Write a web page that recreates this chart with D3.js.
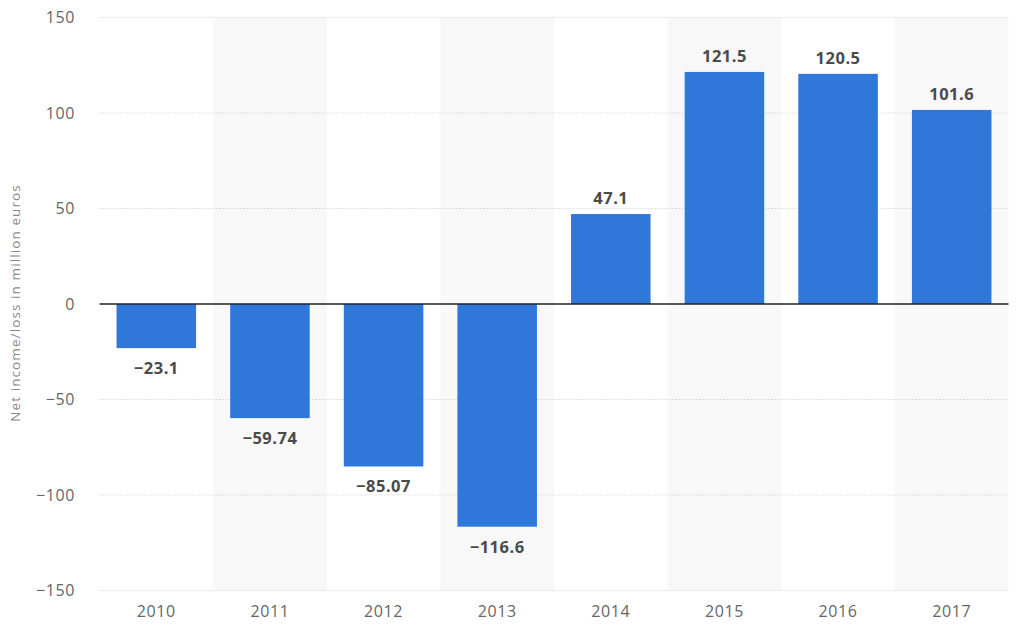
<!DOCTYPE html>
<html><head><meta charset="utf-8">
<script src="https://cdn.jsdelivr.net/npm/d3@7"></script>
<style>body{margin:0;background:#fff;}text{font-family:"Open Sans",sans-serif;}</style>
</head><body><svg id="c" width="1024" height="635"></svg>
<script>
const categories = ["2010","2011","2012","2013","2014","2015","2016","2017"];
const values = [-23.1,-59.74,-85.07,-116.6,47.1,121.5,120.5,101.6];
const labels = ["−23.1","−59.74","−85.07","−116.6","47.1","121.5","120.5","101.6"];
const yTicks = [-150,-100,-50,0,50,100,150];
const yTickLabels = ["−150","−100","−50","0","50","100","150"];
const yTitle = "Net income/loss in million euros";

const svg = d3.select("#c");
const x = d3.scaleBand().domain(categories).range([99.5,1008.5]).paddingInner(0.3).paddingOuter(0.15);
const y = d3.scaleLinear().domain([-150,150]).range([590.5,17.5]);
const step = x.step();
const bandStart = c => x(c) - step*x.paddingInner()/2;

// shading
svg.append("g").selectAll("rect").data(categories.filter((d,i)=>i%2===1)).join("rect")
  .attr("x", d=>bandStart(d)).attr("y", y(150)).attr("width", step).attr("height", y(-150)-y(150))
  .attr("fill","#f8f8f8");

// gridlines
svg.append("g").selectAll("line").data(yTicks.filter(t=>t!==0)).join("line")
  .attr("x1",99.5).attr("x2",1008.5).attr("y1",d=>y(d)).attr("y2",d=>y(d))
  .attr("stroke","#c8c8c8").attr("stroke-width",1).attr("stroke-dasharray","1,2");

// y tick labels
svg.append("g").selectAll("text").data(yTicks).join("text")
  .attr("x",75).attr("y",d=>y(d)).attr("dy","0.35em").attr("text-anchor","end")
  .attr("font-size",16).attr("letter-spacing",0.6).attr("fill","#666").text((d,i)=>yTickLabels[i]);

// x tick labels
svg.append("g").selectAll("text").data(categories).join("text")
  .attr("x",d=>x(d)+x.bandwidth()/2).attr("y",617).attr("text-anchor","middle")
  .attr("font-size",16).attr("letter-spacing",0.6).attr("fill","#666").text(d=>d);

// bars
svg.append("g").selectAll("rect").data(values).join("rect")
  .attr("x",(d,i)=>x(categories[i])).attr("width",x.bandwidth())
  .attr("y",d=>y(Math.max(0,d))).attr("height",d=>Math.abs(y(d)-y(0)))
  .attr("fill","#2f78d9");

// zero line
svg.append("line").attr("x1",99.5).attr("x2",1008.5).attr("y1",y(0)).attr("y2",y(0))
  .attr("stroke","#222").attr("stroke-width",1.5);

// value labels
svg.append("g").selectAll("text").data(values).join("text")
  .attr("x",(d,i)=>x(categories[i])+x.bandwidth()/2)
  .attr("y",d=> d>=0 ? y(d)-10 : y(d)+26)
  .attr("text-anchor","middle").attr("font-size",16.5).attr("letter-spacing",0.5).attr("font-weight","bold").attr("fill","#4a4a4a")
  .text((d,i)=>labels[i]);

// y title
svg.append("text").attr("transform","translate(19.5,303) rotate(-90)").attr("text-anchor","middle")
  .attr("font-size",13.5).attr("letter-spacing",1.1).attr("fill","#888").text(yTitle);
</script></body></html>
